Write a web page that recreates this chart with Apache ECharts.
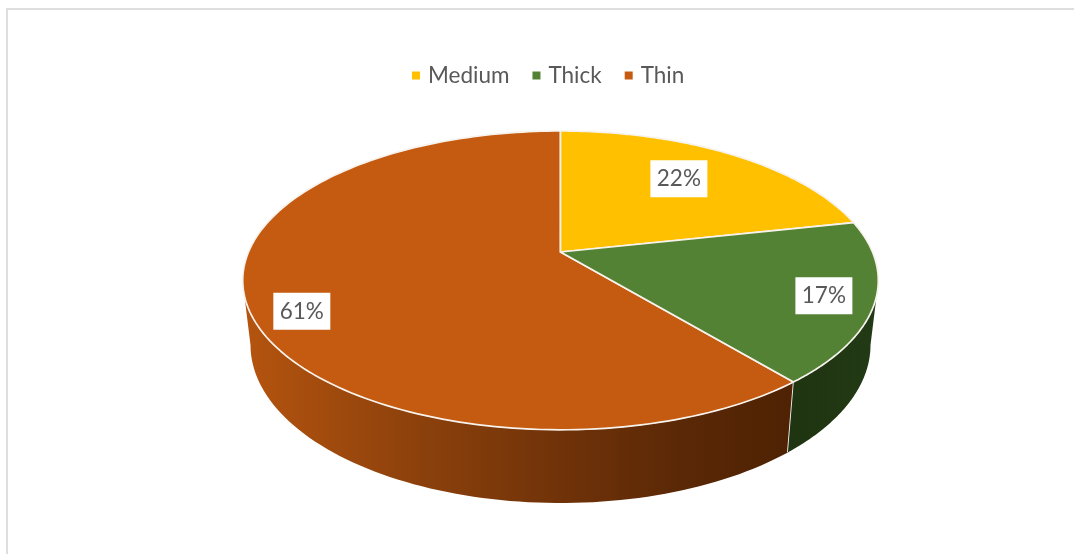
<!DOCTYPE html>
<html><head><meta charset="utf-8">
<style>html,body{margin:0;padding:0;background:#fff}#c{width:1074px;height:554px}</style>
<script src="https://cdn.jsdelivr.net/npm/echarts@6/dist/echarts.min.js"></script>
</head><body><div id="c"></div>
<script>
const categories = ['Medium', 'Thick', 'Thin'];
const values = [21.6, 17.4, 61];
const topColors = ['#FFC000', '#548235', '#C55A11'];

const FONT = '22.5px Lato, "Open Sans", sans-serif';
const TEXT = '#595959';
const total = values.reduce((a, b) => a + b, 0);

// projection of a tilted disc onto the page
const APEX = {x: 560.5, y: 252}, K = 0.19, BX = 312, BY = 144;
const TOP = {cx: 560.5, cy: 280.5, rx: 318, ry: 149.5};
const BOTTOM = {cx: 560.5, cy: 345, rx: 310, ry: 158};

function project(theta, r) {
  const X = Math.sin(theta) * r, Y = -Math.cos(theta) * r;
  const d = 1 - K * Y;
  return [APEX.x + BX * X / d, APEX.y + BY * Y / d];
}
// ellipse parameter measured clockwise from the top
function phiOf(theta) {
  const p = project(theta, 1);
  let phi = Math.atan2((p[0] - TOP.cx) / TOP.rx, -(p[1] - TOP.cy) / TOP.ry);
  if (phi < 0) phi += Math.PI * 2;
  return phi;
}
function onEllipse(e, phi) {
  return [e.cx + e.rx * Math.sin(phi), e.cy - e.ry * Math.cos(phi)];
}
function frac(i) {
  let s = 0;
  for (let k = 0; k < i; k++) s += values[k];
  return s / total;
}

const labelShift = [[-1, -5], [-4.5, 1], [2, 16]];
const labelRadius = [0.67, 0.86, 0.84];

const wallFill = [
  null,
  {type: 'linear', x: 0, y: 0, x2: 1, y2: 0, colorStops: [{offset: 0, color: '#1F3410'}, {offset: 1, color: '#223A15'}]},
  {type: 'linear', x: 0, y: 0, x2: 1, y2: 0, global: false, colorStops: [
    {offset: 0, color: '#B5540F'}, {offset: 0.3, color: '#8E420C'},
    {offset: 0.55, color: '#733409'}, {offset: 0.8, color: '#5A2806'}, {offset: 1, color: '#4E2203'}]}
];

function renderSlice(i) {
  return function (params, api) {
    const value = api.value(0);
    const a0 = frac(i) * Math.PI * 2;
    const a1 = a0 + value / total * Math.PI * 2;
    const children = [];

    // side wall: the part of the rim that faces the viewer
    const p0 = Math.max(phiOf(a0 || 0), Math.PI / 2);
    const pEnd = i === values.length - 1 ? Math.PI * 2 : phiOf(a1);
    const p1 = Math.min(pEnd, Math.PI * 1.5);
    if (p1 > p0) {
      const pts = [];
      const n = 80;
      for (let k = 0; k <= n; k++) pts.push(onEllipse(TOP, p0 + (p1 - p0) * k / n));
      for (let k = n; k >= 0; k--) pts.push(onEllipse(BOTTOM, p0 + (p1 - p0) * k / n));
      children.push({type: 'polygon', shape: {points: pts}, style: {fill: wallFill[i]}});
      if (p0 > Math.PI / 2 + 1e-6) {
        children.push({type: 'line',
          shape: {x1: onEllipse(TOP, p0)[0], y1: onEllipse(TOP, p0)[1], x2: onEllipse(BOTTOM, p0)[0], y2: onEllipse(BOTTOM, p0)[1]},
          style: {stroke: '#F2F2F2', lineWidth: 1.8}});
      }
    }

    // top face
    const top = [[APEX.x, APEX.y]];
    const n = 160;
    for (let k = 0; k <= n; k++) top.push(project(a0 + (a1 - a0) * k / n, 1));
    children.push({type: 'polygon', shape: {points: top},
      style: {fill: topColors[i], stroke: '#F7F3EC', lineWidth: 1.7, lineJoin: 'round'}});

    // label
    const mid = (a0 + a1) / 2;
    const c = project(mid, labelRadius[i]);
    const lx = c[0] + labelShift[i][0], ly = c[1] + labelShift[i][1];
    children.push({type: 'rect', shape: {x: lx - 28.5, y: ly - 18.5, width: 57, height: 37}, style: {fill: '#fff'}});
    children.push({type: 'text', x: lx, y: ly,
      style: {text: Math.round(value / total * 100) + '%', font: FONT, fill: TEXT, align: 'center', verticalAlign: 'middle'}});
    return {type: 'group', children};
  };
}

const chart = echarts.init(document.getElementById('c'), null, {renderer: 'canvas'});
chart.setOption({
  animation: false,
  backgroundColor: '#fff',
  legend: {
    show: true, left: 407, top: 59, icon: 'rect', itemWidth: 8, itemHeight: 8, itemGap: 23,
    data: categories,
    textStyle: {color: TEXT, fontFamily: 'Lato, "Open Sans", sans-serif', fontSize: 22.5, padding: [0, 0, 0, 3]}
  },
  graphic: [
    {type: 'rect', silent: true, shape: {x: 6, y: 8, width: 2, height: 546}, style: {fill: '#DEDEDE'}},
    {type: 'rect', silent: true, shape: {x: 6, y: 8, width: 1068, height: 2}, style: {fill: '#DEDEDE'}}
  ],
  series: categories.map((name, i) => ({
    type: 'custom', name, coordinateSystem: 'none', silent: true,
    itemStyle: {color: topColors[i]},
    z: i === 2 ? 2 : 3,
    data: [[values[i]]],
    renderItem: renderSlice(i)
  }))
});
</script></body></html>
